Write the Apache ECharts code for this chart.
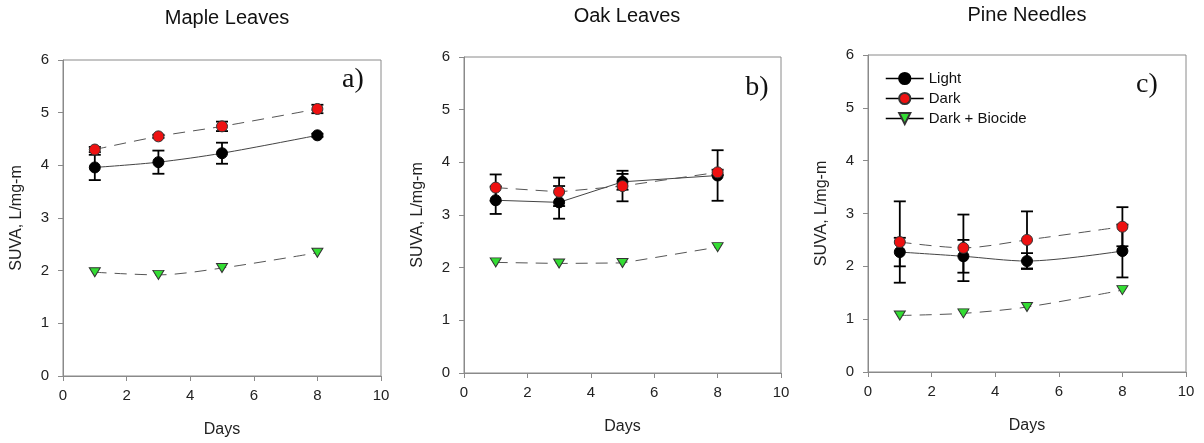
<!DOCTYPE html>
<html>
<head>
<meta charset="utf-8">
<title>SUVA</title>
<script src="https://cdn.jsdelivr.net/npm/echarts@6/dist/echarts.min.js"></script>
<style>
  html, body { margin: 0; padding: 0; background: #fff; }
  .box { width: 1204px; height: 443px; }
</style>
</head>
<body>
<div class="box"></div>
<script>
// data
var days = [1, 3, 5, 8];
var panelTitles = ['Maple Leaves', 'Oak Leaves', 'Pine Needles'];
var panelTags = ['a)', 'b)', 'c)'];
var seriesNames = ['Light', 'Dark', 'Dark + Biocide'];

var mapleLight = [3.96, 4.06, 4.23, 4.57];
var mapleLightErr = [0.24, 0.22, 0.20, 0.03];
var mapleDark = [4.30, 4.55, 4.74, 5.07];
var mapleDarkErr = [0.05, 0.03, 0.09, 0.08];
var mapleBio = [1.97, 1.92, 2.05, 2.34];

var oakLight = [3.28, 3.24, 3.63, 3.75];
var oakLightErr = [0.26, 0.31, 0.15, 0.48];
var oakDark = [3.52, 3.44, 3.55, 3.81];
var oakDarkErr = [0.25, 0.27, 0.29, 0.05];
var oakBio = [2.10, 2.08, 2.09, 2.39];

var pineLight = [2.27, 2.19, 2.10, 2.29];
var pineLightErr = [0.27, 0.31, 0.15, 0.50];
var pineDark = [2.46, 2.35, 2.50, 2.75];
var pineDarkErr = [0.77, 0.63, 0.54, 0.37];
var pineBio = [1.07, 1.11, 1.23, 1.55];

(function () {
  var myChart = echarts.init(document.querySelector('.box'));
  var font = '"Liberation Sans", Arial, sans-serif';

  var panels = [
    { light: mapleLight, lightErr: mapleLightErr, dark: mapleDark, darkErr: mapleDarkErr, bio: mapleBio, smooth: 0.3 },
    { light: oakLight, lightErr: oakLightErr, dark: oakDark, darkErr: oakDarkErr, bio: oakBio, smooth: false },
    { light: pineLight, lightErr: pineLightErr, dark: pineDark, darkErr: pineDarkErr, bio: pineBio, smooth: 0.3 }
  ];
  // plot boxes [left, top, width, height], titles centre, tag position
  var boxes = [[63, 60, 318, 317], [464, 57, 317, 316], [868, 55, 318, 317]];
  var titlePos = [[227, 18], [627, 16], [1027, 15]];
  var tagPos = [[353, 80], [757, 88], [1147, 85]];

  function pairs(ys) {
    return days.map(function (d, i) { return [d, ys[i]]; });
  }
  function bars(ys, es) {
    return days.map(function (d, i) { return [d, ys[i] - es[i], ys[i] + es[i]]; });
  }
  function renderBar(params, api) {
    var x = api.value(0);
    var lo = api.coord([x, api.value(1)]);
    var hi = api.coord([x, api.value(2)]);
    var w = 6;
    var st = { stroke: '#000', lineWidth: 1.8 };
    return {
      type: 'group',
      children: [
        { type: 'line', shape: { x1: lo[0], y1: lo[1], x2: hi[0], y2: hi[1] }, style: st },
        { type: 'line', shape: { x1: lo[0] - w, y1: lo[1], x2: lo[0] + w, y2: lo[1] }, style: st },
        { type: 'line', shape: { x1: hi[0] - w, y1: hi[1], x2: hi[0] + w, y2: hi[1] }, style: st }
      ]
    };
  }

  var grid = [], xAxis = [], yAxis = [], series = [], graphic = [];

  panels.forEach(function (p, k) {
    var b = boxes[k];
    grid.push({ left: b[0], top: b[1], width: b[2], height: b[3],
      show: true, borderColor: '#8a8a8a', borderWidth: 1, backgroundColor: 'transparent' });
    xAxis.push({
      gridIndex: k, type: 'value', min: 0, max: 10, interval: 2,
      name: 'Days', nameLocation: 'middle', nameGap: 46,
      nameTextStyle: { fontSize: 16, color: '#222', fontFamily: font },
      axisLine: { lineStyle: { color: '#8a8a8a' } },
      axisTick: { show: true, inside: false, length: 5, lineStyle: { color: '#8a8a8a' } },
      axisLabel: { fontSize: 15, color: '#222', margin: 12, fontFamily: font },
      splitLine: { show: false }
    });
    yAxis.push({
      gridIndex: k, type: 'value', min: 0, max: 6, interval: 1,
      name: 'SUVA, L/mg-m', nameLocation: 'middle', nameGap: 38,
      nameTextStyle: { fontSize: 16, color: '#222', fontFamily: font },
      axisLine: { show: true, lineStyle: { color: '#8a8a8a' } },
      axisTick: { show: true, inside: false, length: 5, lineStyle: { color: '#8a8a8a' } },
      axisLabel: { fontSize: 15, color: '#222', margin: 14, fontFamily: font },
      splitLine: { show: false }
    });

    // error bars under the markers
    series.push({ name: 'err-light-' + k, type: 'custom', xAxisIndex: k, yAxisIndex: k,
      renderItem: renderBar, data: bars(p.light, p.lightErr), z: 1, silent: true });
    series.push({ name: 'err-dark-' + k, type: 'custom', xAxisIndex: k, yAxisIndex: k,
      renderItem: renderBar, data: bars(p.dark, p.darkErr), z: 1, silent: true });

    series.push({
      name: seriesNames[0], type: 'line', xAxisIndex: k, yAxisIndex: k, data: pairs(p.light),
      smooth: p.smooth, symbol: 'circle', symbolSize: 11, z: 3,
      lineStyle: { color: '#444', width: 1, type: 'solid' },
      itemStyle: { color: '#000', borderColor: '#000', borderWidth: 1 }
    });
    series.push({
      name: seriesNames[1], type: 'line', xAxisIndex: k, yAxisIndex: k, data: pairs(p.dark),
      smooth: p.smooth, symbol: 'circle', symbolSize: 11, z: 4,
      lineStyle: { color: '#555', width: 1, type: [12, 8] },
      itemStyle: { color: '#ee1111', borderColor: '#333', borderWidth: 1 }
    });
    series.push({
      name: seriesNames[2], type: 'line', xAxisIndex: k, yAxisIndex: k, data: pairs(p.bio),
      smooth: p.smooth, symbol: 'triangle', symbolRotate: 180, symbolSize: [11, 9], z: 3,
      lineStyle: { color: '#555', width: 1, type: [12, 8] },
      itemStyle: { color: '#33dd33', borderColor: '#333', borderWidth: 1 }
    });

    graphic.push({ type: 'text', x: titlePos[k][0], y: titlePos[k][1],
      style: { text: panelTitles[k], fill: '#111', font: '20px ' + font,
        textAlign: 'center', textVerticalAlign: 'middle' } });
    graphic.push({ type: 'text', x: tagPos[k][0], y: tagPos[k][1],
      style: { text: panelTags[k], fill: '#111', font: '28px "Liberation Serif", "Times New Roman", serif',
        textAlign: 'center', textVerticalAlign: 'middle',
        shadowBlur: 4, shadowColor: 'rgba(0,0,0,0.35)', shadowOffsetX: 2, shadowOffsetY: 2 } });
  });

  var option = {
    backgroundColor: '#fff',
    animation: false,
    grid: grid,
    xAxis: xAxis,
    yAxis: yAxis,
    legend: {
      data: seriesNames,
      orient: 'vertical',
      left: 880, top: 66,
      itemGap: 5, itemWidth: 38, itemHeight: 14,
      lineStyle: { type: 'solid', color: '#000', width: 1.5 },
      textStyle: { fontSize: 15, color: '#111', fontFamily: font }
    },
    series: series,
    graphic: graphic
  };

  myChart.setOption(option);
  window.addEventListener('resize', function () {
    myChart.resize();
  });
})();
</script>
</body>
</html>
